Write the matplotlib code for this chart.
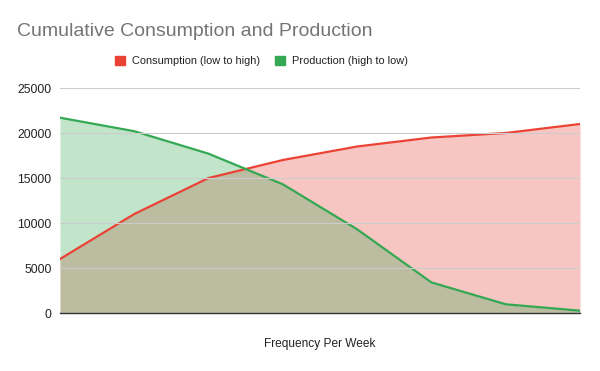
import numpy as np
import matplotlib.pyplot as plt
import matplotlib.ticker as mticker

# values (8 categories, unlabeled on x axis)
points = np.arange(8)
consumption = [6000, 11000, 15000, 17000, 18500, 19500, 20000, 21000]
production = [21700, 20200, 17700, 14300, 9300, 3400, 970, 260]

red = "#ea4335"
green = "#34a853"

plt.rcParams["font.family"] = ["Liberation Sans", "DejaVu Sans"]

fig = plt.figure(figsize=(6, 3.71), dpi=100)
ax = fig.add_axes([0.1, 0.1563, 0.8667, 0.6065])

ax.fill_between(points, consumption, color=red, alpha=0.3, linewidth=0)
ax.fill_between(points, production, color=green, alpha=0.3, linewidth=0)
ax.plot(points, consumption, color=red, linewidth=1.6, label="Consumption (low to high)")
ax.plot(points, production, color=green, linewidth=1.6, label="Production (high to low)")

ax.set_xlim(0, 7)
ax.set_ylim(0, 25000)
ax.yaxis.set_major_locator(mticker.MultipleLocator(5000))
ax.set_xticks([])
ax.tick_params(axis="y", length=0, labelsize=8.8, labelcolor="#222222", pad=6)
ax.grid(axis="y", color="#cccccc", linewidth=0.8)
ax.set_axisbelow(False)
for s in ["top", "right", "left"]:
    ax.spines[s].set_visible(False)
ax.spines["bottom"].set_color("#333333")
ax.spines["bottom"].set_linewidth(1)

ax.set_xlabel("Frequency Per Week", fontsize=8.6, color="#222222", labelpad=18)

fig.text(0.028, 0.915, "Cumulative Consumption and Production", fontsize=14,
         color="#757575", va="center")

handles = [plt.Rectangle((0, 0), 1, 1, color=red), plt.Rectangle((0, 0), 1, 1, color=green)]
fig.legend(handles, ["Consumption (low to high)", "Production (high to low)"],
           loc="center", bbox_to_anchor=(0.436, 0.835), ncol=2, frameon=False,
           fontsize=7.9, handlelength=0.9, handleheight=0.9, columnspacing=1.4,
           handletextpad=0.6, labelcolor="#222222")

plt.savefig("out.png")
